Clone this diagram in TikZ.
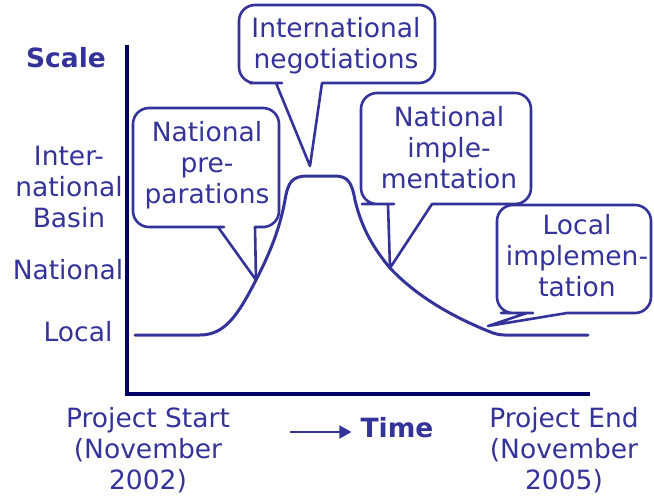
\documentclass[tikz,border=0pt]{standalone}
\usepackage{fontspec}
\setmainfont{DejaVu Sans}
\usetikzlibrary{arrows.meta}
\definecolor{txtblue}{RGB}{51,51,153}
\definecolor{axisnavy}{RGB}{0,0,102}
\begin{document}
\begin{tikzpicture}[x=1pt,y=-1pt,
  lbl/.style={text=txtblue, font=\fontsize{26.5}{31}\selectfont, align=center, inner sep=0pt},
  boldlbl/.style={text=txtblue, font=\fontsize{26.5}{31}\selectfont\bfseries, inner sep=0pt},
  bubble/.style={draw=txtblue, line width=2.6pt, line join=round},
  curve/.style={draw=txtblue, line width=3pt, line cap=round},
  axisline/.style={draw=axisnavy, line width=4pt},
  timearrow/.style={draw=txtblue, line width=2pt, -{Triangle[length=12pt,width=13pt]}}]
\useasboundingbox (0,0) rectangle (654,496);

% axes
\coordinate (ytop) at (127,45);
\coordinate (origin) at (127,394);
\coordinate (xend) at (590,394);
\draw[axisline] (ytop) -- (origin) -- (xend);

% curve
\coordinate (tip1) at (256,280);
\coordinate (tip2) at (310,166);
\coordinate (tip3) at (390,268);
\coordinate (tip4) at (488,326);
\draw[curve] (135,335) -- (200,335) .. controls (225,335) and (238,315) .. (tip1)
  .. controls (270,253) and (280,228) .. (285,200)
  .. controls (288,182) and (292,176) .. (308,176) -- (335,176)
  .. controls (348,176) and (352,183) .. (355,200)
  .. controls (362,230) and (375,250) .. (tip3)
  .. controls (420,300) and (460,320) .. (493,333)
  .. controls (500,335.5) and (505,335) .. (515,335) -- (588,335);

% bubbles
\draw[bubble] (206,108) [rounded corners=16] -- (133,108) -- (133,227) -- (208,227)
  [sharp corners] -- (218,227) -- (tip1) -- (255,227) -- (265,227) [rounded corners=16] -- (279,227) -- (279,108) -- cycle;
\draw[bubble] (337,5) [rounded corners=16] -- (239,5) -- (239,83) -- (266,83)
  [sharp corners] -- (276,83) -- (tip2) -- (322,83) -- (330,83) [rounded corners=16] -- (435,83) -- (435,5) -- cycle;
\draw[bubble] (446,93) [rounded corners=16] -- (361,93) -- (361,204) -- (378,204)
  [sharp corners] -- (388,204) -- (tip3) -- (432,204) -- (440,204) [rounded corners=16] -- (531,204) -- (531,93) -- cycle;
\draw[bubble] (575,205) [rounded corners=16] -- (497,205) -- (497,313) -- (517,313)
  [sharp corners] -- (527,313) -- (tip4) -- (567,313) -- (577,313) [rounded corners=16] -- (651,313) -- (651,205) -- cycle;

% bubble texts
\node[lbl] (prep) at (207,165) {National\\pre-\\parations};
\node[lbl] (nego) at (336,46) {International\\negotiations};
\node[lbl] (nimpl) at (449,148) {National\\imple-\\mentation};
\node[lbl] (limpl) at (577,256) {Local\\implemen-\\tation};

% axis labels
\node[boldlbl] (scale) at (66,58) {Scale};
\node[lbl] (intl) at (69,187) {Inter-\\national\\Basin};
\node[lbl] (natl) at (68,270) {National};
\node[lbl] (local) at (78,332) {Local};
\node[lbl] (pstart) at (148,450) {Project Start\\(November\\2002)};
\node[lbl] (pend) at (564,450) {Project End\\(November\\2005)};
\node[boldlbl] (time) at (397,428) {Time};
\coordinate (arrowstart) at (290,432);
\draw[timearrow] (arrowstart) -- ([xshift=-9pt]time.west |- arrowstart);
\end{tikzpicture}
\end{document}
